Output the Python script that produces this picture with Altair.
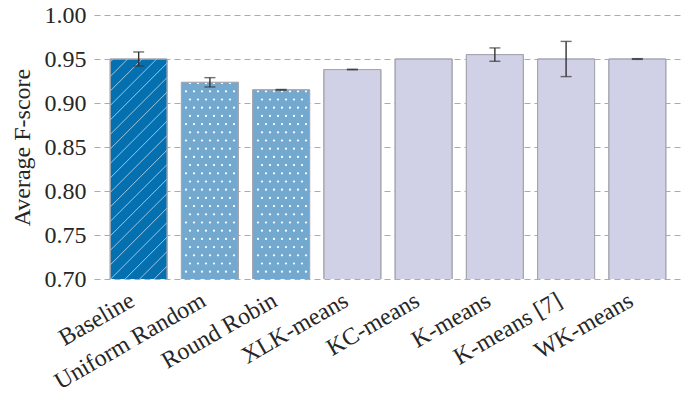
import altair as alt
import numpy as np
import pandas as pd

# ---- data ----
methods = ["Baseline", "Uniform Random", "Round Robin", "XLK-means",
           "KC-means", "K-means", "K-means [7]", "WK-means"]
scores = [0.950, 0.9235, 0.915, 0.938, 0.950, 0.955, 0.950, 0.950]
errors = [0.008, 0.0053, 0.0004, 0.0004, None, 0.0076, 0.020, 0.0004]
groups = ["baseline", "simple", "simple", "cluster",
          "cluster", "cluster", "cluster", "cluster"]
group_names = ["baseline", "simple", "cluster"]
group_colors = ["#0570b0", "#74a9cf", "#d0d1e6"]
y_ticks = [0.70, 0.75, 0.80, 0.85, 0.90, 0.95, 1.00]

# ---- layout ----
W, H = 588, 264
Y_MIN, Y_MAX = 0.70, 1.00
P_IN, P_OUT = 0.2, 0.227
n = len(methods)
half = (1 - P_IN) / 2
sx = W / (n - P_IN + 2 * P_OUT)        # px per category step
sy = H / (Y_MAX - Y_MIN)               # px per score unit
x_lo = -(P_OUT + half)
x_hi = n - 1 + P_OUT + half

FONT = "Liberation Serif, Times New Roman, Times, serif"
TXT = "#262626"

bars = pd.DataFrame({"method": methods, "score": scores, "group": groups})
err = pd.DataFrame({"method": methods, "score": scores, "err": errors}).dropna()
err["lo"] = err["score"] - err["err"]
err["hi"] = err["score"] + err["err"]

# hatch lines (diagonal "/") for the hatched bar
hatch_rows = []
spacing = 14.5
for i, (s, g) in enumerate(zip(scores, groups)):
    if g != "baseline":
        continue
    bw = 2 * half * sx
    bh = (s - Y_MIN) * sy
    c = -bh + 3
    while c < bw:
        u0 = max(0.0, c)
        u1 = min(bw, bh + c)
        if u1 > u0:
            hatch_rows.append({
                "x": i - half + u0 / sx, "x2": i - half + u1 / sx,
                "y": Y_MIN + (u0 - c) / sy, "y2": Y_MIN + (u1 - c) / sy})
        c += spacing
hatch = pd.DataFrame(hatch_rows)

# dot pattern for the dotted bars
dot_rows = []
for i, (s, g) in enumerate(zip(scores, groups)):
    if g != "simple":
        continue
    left_px = (i - half - x_lo) * sx
    right_px = (i + half - x_lo) * sx
    top_px = (Y_MAX - s) * sy
    k = 0
    while True:
        ypx = 2.5 + k * 8.2
        if ypx > H - 1:
            break
        if ypx >= top_px + 0.5:
            j = 0
            while True:
                xpx = j * 8 + (k % 2) * 4
                if xpx > right_px - 1.5:
                    break
                if xpx >= left_px + 1.5:
                    dot_rows.append({"x": x_lo + xpx / sx, "y": Y_MAX - ypx / sy})
                j += 1
        k += 1
dots = pd.DataFrame(dot_rows)

xband = alt.Scale(domain=methods, paddingInner=P_IN, paddingOuter=P_OUT)
xq = alt.Scale(domain=[x_lo, x_hi], nice=False, zero=False)
yscale = alt.Scale(domain=[Y_MIN, Y_MAX], nice=False, zero=False)
YT = "Average F-score"

bar_layer = alt.Chart(bars).mark_bar(stroke="#a6a6b0", strokeWidth=1, clip=True).encode(
    x=alt.X("method:N", scale=xband, sort=methods, title=None,
            axis=alt.Axis(labelAngle=-30, labelAlign="right", labelBaseline="top",
                          labelPadding=9, labelOffset=-12, ticks=False, domain=False,
                          labelLimit=0, labelFont=FONT, labelFontSize=24,
                          labelColor=TXT)),
    y=alt.Y("score:Q", scale=yscale, title=YT),
    color=alt.Color("group:N", scale=alt.Scale(domain=group_names, range=group_colors),
                    legend=None),
)

hatch_layer = alt.Chart(hatch).mark_rule(color="#ffffff", strokeWidth=1, opacity=0.6).encode(
    x=alt.X("x:Q", scale=xq, axis=None),
    x2="x2:Q",
    y=alt.Y("y:Q", scale=yscale, title=YT),
    y2="y2:Q",
)

dot_layer = alt.Chart(dots).mark_circle(color="#ffffff", size=5, opacity=1).encode(
    x=alt.X("x:Q", scale=xq, axis=None),
    y=alt.Y("y:Q", scale=yscale, title=YT),
)

outline_layer = alt.Chart(bars).mark_bar(fillOpacity=0, stroke="#a6a6b0", strokeWidth=1,
                                          clip=True).encode(
    x=alt.X("method:N", scale=xband, sort=methods, axis=None),
    y=alt.Y("score:Q", scale=yscale, title=YT),
)

err_rule = alt.Chart(err).mark_rule(color="#333333", strokeWidth=1.4).encode(
    x=alt.X("method:N", scale=xband, sort=methods, axis=None),
    y=alt.Y("lo:Q", scale=yscale, title=YT),
    y2="hi:Q",
)
err_lo = alt.Chart(err).mark_tick(color="#333333", thickness=1.4, size=11).encode(
    x=alt.X("method:N", scale=xband, sort=methods, axis=None),
    y=alt.Y("lo:Q", scale=yscale, title=YT),
)
err_hi = alt.Chart(err).mark_tick(color="#333333", thickness=1.4, size=11).encode(
    x=alt.X("method:N", scale=xband, sort=methods, axis=None),
    y=alt.Y("hi:Q", scale=yscale, title=YT),
)

chart = alt.layer(
    bar_layer, hatch_layer, dot_layer, outline_layer, err_rule, err_lo, err_hi
).resolve_scale(x="independent").properties(
    width=W, height=H,
    autosize=alt.AutoSizeParams(type="none"),
    padding={"left": 94, "top": 15, "right": 6, "bottom": 117},
).configure_view(stroke=None).configure_axisY(
    values=y_ticks, format=".2f", grid=True, gridDash=[6, 4], gridColor="#ababab",
    gridWidth=1, domain=False, ticks=False, labelPadding=8,
    labelFont=FONT, labelFontSize=24, labelColor=TXT,
    titleFont=FONT, titleFontSize=24, titleFontWeight="normal", titleColor=TXT,
    titlePadding=10,
)

chart.save("out.html", embed_options={"renderer": "svg", "actions": False})
